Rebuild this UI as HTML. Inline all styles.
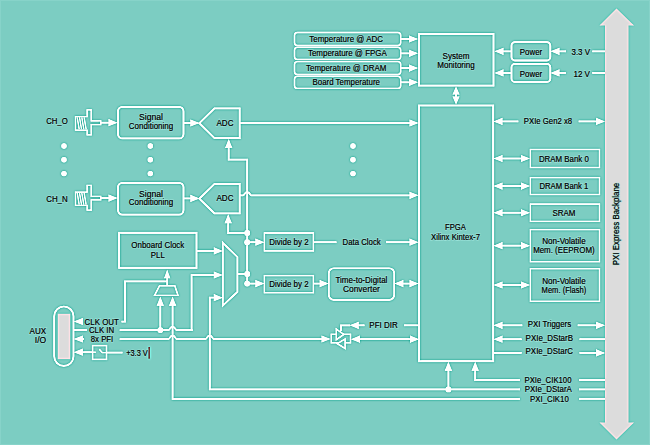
<!DOCTYPE html>
<html><head><meta charset="utf-8"><style>
html,body{margin:0;padding:0;background:#7ccdc2;overflow:hidden;}
svg{display:block;}
text{font-family:"Liberation Sans", sans-serif;stroke:#000;stroke-width:0.12px;} text.h{stroke:#a8ece2;stroke-width:1.6px;stroke-opacity:0.6;}
</style></head><body>
<svg width="650" height="445" viewBox="0 0 650 445">
<defs><filter id="sh" filterUnits="userSpaceOnUse" x="0" y="0" width="650" height="445" color-interpolation-filters="sRGB">
<feGaussianBlur in="SourceGraphic" stdDeviation="0.8" result="b"/>
<feComposite in="SourceGraphic" in2="b" operator="arithmetic" k1="0" k2="2.25" k3="-1.25" k4="0"/>
</filter></defs>
<g filter="url(#sh)">
<rect x="-30" y="-30" width="710" height="505" fill="#7ccdc2"/>
<polygon points="616.50,8.50 634.00,25.50 628.50,25.50 628.50,422.50 634.00,422.50 616.50,439.50 599.50,422.50 605.00,422.50 605.00,25.50 599.50,25.50" fill="#dcdcdc" stroke="none" stroke-width="0"/>
<rect x="294.50" y="32.50" width="106.20" height="13.00" rx="3" fill="#7ccdc2" stroke="#ffffff" stroke-width="1.4"/>
<line x1="400.70" y1="39.00" x2="410.00" y2="39.00" stroke="#ffffff" stroke-width="1.75"/>
<polygon points="418.00,39.00 409.00,35.40 409.00,42.60" fill="#ffffff"/>
<rect x="294.50" y="47.20" width="106.20" height="12.30" rx="3" fill="#7ccdc2" stroke="#ffffff" stroke-width="1.4"/>
<line x1="400.70" y1="53.35" x2="410.00" y2="53.35" stroke="#ffffff" stroke-width="1.75"/>
<polygon points="418.00,53.35 409.00,49.75 409.00,56.95" fill="#ffffff"/>
<rect x="294.50" y="61.60" width="106.20" height="12.90" rx="3" fill="#7ccdc2" stroke="#ffffff" stroke-width="1.4"/>
<line x1="400.70" y1="68.05" x2="410.00" y2="68.05" stroke="#ffffff" stroke-width="1.75"/>
<polygon points="418.00,68.05 409.00,64.45 409.00,71.65" fill="#ffffff"/>
<rect x="294.50" y="76.20" width="106.20" height="12.20" rx="3" fill="#7ccdc2" stroke="#ffffff" stroke-width="1.4"/>
<line x1="400.70" y1="82.30" x2="410.00" y2="82.30" stroke="#ffffff" stroke-width="1.75"/>
<polygon points="418.00,82.30 409.00,78.70 409.00,85.90" fill="#ffffff"/>
<rect x="419.00" y="34.00" width="74.50" height="51.60" rx="0" fill="#7ccdc2" stroke="#ffffff" stroke-width="1.8"/>
<rect x="511.50" y="42.20" width="38.80" height="18.30" rx="3.5" fill="#7ccdc2" stroke="#ffffff" stroke-width="1.8"/>
<line x1="503.00" y1="51.35" x2="511.50" y2="51.35" stroke="#ffffff" stroke-width="1.75"/>
<polygon points="494.50,51.35 503.50,47.75 503.50,54.95" fill="#ffffff"/>
<line x1="558.00" y1="51.35" x2="566.00" y2="51.35" stroke="#ffffff" stroke-width="1.75"/>
<polygon points="550.50,51.35 559.50,47.75 559.50,54.95" fill="#ffffff"/>
<line x1="592.30" y1="51.35" x2="605.00" y2="51.35" stroke="#ffffff" stroke-width="1.75"/>
<rect x="511.50" y="63.90" width="38.80" height="18.00" rx="3.5" fill="#7ccdc2" stroke="#ffffff" stroke-width="1.8"/>
<line x1="503.00" y1="72.90" x2="511.50" y2="72.90" stroke="#ffffff" stroke-width="1.75"/>
<polygon points="494.50,72.90 503.50,69.30 503.50,76.50" fill="#ffffff"/>
<line x1="558.00" y1="72.90" x2="566.00" y2="72.90" stroke="#ffffff" stroke-width="1.75"/>
<polygon points="550.50,72.90 559.50,69.30 559.50,76.50" fill="#ffffff"/>
<line x1="592.30" y1="72.90" x2="605.00" y2="72.90" stroke="#ffffff" stroke-width="1.75"/>
<line x1="456.00" y1="94.00" x2="456.00" y2="97.00" stroke="#ffffff" stroke-width="1.75"/>
<polygon points="456.00,86.50 452.50,94.50 459.50,94.50" fill="#ffffff"/>
<polygon points="456.00,104.50 452.50,96.50 459.50,96.50" fill="#ffffff"/>
<rect x="419.00" y="105.50" width="74.20" height="255.70" rx="0" fill="#7ccdc2" stroke="#ffffff" stroke-width="1.8"/>
<polygon points="493.50,121.40 502.50,117.80 502.50,125.00" fill="#ffffff"/>
<line x1="501.00" y1="121.40" x2="518.35" y2="121.40" stroke="#ffffff" stroke-width="1.75"/>
<line x1="578.65" y1="121.40" x2="597.50" y2="121.40" stroke="#ffffff" stroke-width="1.75"/>
<polygon points="605.00,121.40 596.00,117.80 596.00,125.00" fill="#ffffff"/>
<rect x="530.40" y="149.50" width="69.10" height="18.00" rx="0" fill="#7ccdc2" stroke="#ffffff" stroke-width="1.3"/>
<line x1="501.50" y1="158.50" x2="522.00" y2="158.50" stroke="#ffffff" stroke-width="1.75"/>
<polygon points="493.50,158.50 502.50,154.90 502.50,162.10" fill="#ffffff"/>
<polygon points="530.00,158.50 521.00,154.90 521.00,162.10" fill="#ffffff"/>
<rect x="530.40" y="177.60" width="69.10" height="16.90" rx="0" fill="#7ccdc2" stroke="#ffffff" stroke-width="1.3"/>
<line x1="501.50" y1="186.05" x2="522.00" y2="186.05" stroke="#ffffff" stroke-width="1.75"/>
<polygon points="493.50,186.05 502.50,182.45 502.50,189.65" fill="#ffffff"/>
<polygon points="530.00,186.05 521.00,182.45 521.00,189.65" fill="#ffffff"/>
<rect x="530.40" y="204.10" width="69.10" height="17.30" rx="0" fill="#7ccdc2" stroke="#ffffff" stroke-width="1.3"/>
<line x1="501.50" y1="212.75" x2="522.00" y2="212.75" stroke="#ffffff" stroke-width="1.75"/>
<polygon points="493.50,212.75 502.50,209.15 502.50,216.35" fill="#ffffff"/>
<polygon points="530.00,212.75 521.00,209.15 521.00,216.35" fill="#ffffff"/>
<rect x="530.40" y="229.60" width="69.10" height="32.10" rx="0" fill="#7ccdc2" stroke="#ffffff" stroke-width="1.3"/>
<line x1="501.50" y1="245.65" x2="522.00" y2="245.65" stroke="#ffffff" stroke-width="1.75"/>
<polygon points="493.50,245.65 502.50,242.05 502.50,249.25" fill="#ffffff"/>
<polygon points="530.00,245.65 521.00,242.05 521.00,249.25" fill="#ffffff"/>
<rect x="530.40" y="268.70" width="69.10" height="32.60" rx="0" fill="#7ccdc2" stroke="#ffffff" stroke-width="1.3"/>
<line x1="501.50" y1="285.00" x2="522.00" y2="285.00" stroke="#ffffff" stroke-width="1.75"/>
<polygon points="493.50,285.00 502.50,281.40 502.50,288.60" fill="#ffffff"/>
<polygon points="530.00,285.00 521.00,281.40 521.00,288.60" fill="#ffffff"/>
<polygon points="493.50,325.30 502.50,321.70 502.50,328.90" fill="#ffffff"/>
<line x1="501.00" y1="325.30" x2="522.30" y2="325.30" stroke="#ffffff" stroke-width="1.75"/>
<line x1="577.70" y1="325.30" x2="597.50" y2="325.30" stroke="#ffffff" stroke-width="1.75"/>
<polygon points="605.00,325.30 596.00,321.70 596.00,328.90" fill="#ffffff"/>
<polygon points="493.50,339.20 502.50,335.60 502.50,342.80" fill="#ffffff"/>
<line x1="501.00" y1="339.20" x2="521.60" y2="339.20" stroke="#ffffff" stroke-width="1.75"/>
<line x1="579.50" y1="339.20" x2="605.00" y2="339.20" stroke="#ffffff" stroke-width="1.75"/>
<line x1="493.20" y1="352.90" x2="521.60" y2="352.90" stroke="#ffffff" stroke-width="1.75"/>
<line x1="579.50" y1="352.90" x2="597.50" y2="352.90" stroke="#ffffff" stroke-width="1.75"/>
<polygon points="605.00,352.90 596.00,349.30 596.00,356.50" fill="#ffffff"/>
<line x1="448.40" y1="369.00" x2="448.40" y2="389.40" stroke="#ffffff" stroke-width="1.75"/>
<polygon points="448.40,361.80 444.80,370.80 452.00,370.80" fill="#ffffff"/>
<polyline points="475.20,369.00 475.20,380.00 520.00,380.00" fill="none" stroke="#ffffff" stroke-width="1.75" stroke-linejoin="miter" />
<polygon points="475.20,361.80 471.60,370.80 478.80,370.80" fill="#ffffff"/>
<line x1="579.00" y1="380.00" x2="605.00" y2="380.00" stroke="#ffffff" stroke-width="1.75"/>
<line x1="579.00" y1="389.40" x2="605.00" y2="389.40" stroke="#ffffff" stroke-width="1.75"/>
<circle cx="448.40" cy="389.40" r="2.9" fill="#ffffff"/>
<line x1="579.00" y1="398.80" x2="605.00" y2="398.80" stroke="#ffffff" stroke-width="1.75"/>
<path d="M75.5,116.6 H87.1 V109.9 H91.2 V120.9 H100.8 V124.5 H91.2 V134.8 H87.1 V130.0 H75.5 Z" fill="#7ccdc2" stroke="#ffffff" stroke-width="1.25"/>
<line x1="77.20" y1="117.4" x2="79.20" y2="129.2" stroke="#ffffff" stroke-width="1.15"/>
<line x1="79.50" y1="117.4" x2="81.50" y2="129.2" stroke="#ffffff" stroke-width="1.15"/>
<line x1="81.80" y1="117.4" x2="83.80" y2="129.2" stroke="#ffffff" stroke-width="1.15"/>
<line x1="84.10" y1="117.4" x2="86.10" y2="129.2" stroke="#ffffff" stroke-width="1.15"/>
<line x1="100.80" y1="122.70" x2="109.50" y2="122.70" stroke="#ffffff" stroke-width="1.75"/>
<polygon points="117.50,122.70 108.50,119.10 108.50,126.30" fill="#ffffff"/>
<rect x="118.00" y="106.90" width="65.50" height="31.50" rx="4.5" fill="#7ccdc2" stroke="#ffffff" stroke-width="1.8"/>
<line x1="183.50" y1="123.00" x2="191.40" y2="123.00" stroke="#ffffff" stroke-width="1.75"/>
<polygon points="199.40,123.00 190.40,119.40 190.40,126.60" fill="#ffffff"/>
<path d="M75.5,192.0 H87.1 V185.3 H91.2 V196.3 H100.8 V199.9 H91.2 V210.20000000000002 H87.1 V205.4 H75.5 Z" fill="#7ccdc2" stroke="#ffffff" stroke-width="1.25"/>
<line x1="77.20" y1="192.8" x2="79.20" y2="204.6" stroke="#ffffff" stroke-width="1.15"/>
<line x1="79.50" y1="192.8" x2="81.50" y2="204.6" stroke="#ffffff" stroke-width="1.15"/>
<line x1="81.80" y1="192.8" x2="83.80" y2="204.6" stroke="#ffffff" stroke-width="1.15"/>
<line x1="84.10" y1="192.8" x2="86.10" y2="204.6" stroke="#ffffff" stroke-width="1.15"/>
<line x1="100.80" y1="198.10" x2="109.50" y2="198.10" stroke="#ffffff" stroke-width="1.75"/>
<polygon points="117.50,198.10 108.50,194.50 108.50,201.70" fill="#ffffff"/>
<rect x="118.00" y="182.80" width="65.50" height="31.80" rx="4.5" fill="#7ccdc2" stroke="#ffffff" stroke-width="1.8"/>
<line x1="183.50" y1="198.40" x2="191.40" y2="198.40" stroke="#ffffff" stroke-width="1.75"/>
<polygon points="199.40,198.40 190.40,194.80 190.40,202.00" fill="#ffffff"/>
<polygon points="199.40,123.20 214.50,108.40 239.70,108.40 239.70,138.00 214.50,138.00" fill="#7ccdc2" stroke="#ffffff" stroke-width="1.75"/>
<polygon points="199.40,198.65 214.50,183.90 239.70,183.90 239.70,213.40 214.50,213.40" fill="#7ccdc2" stroke="#ffffff" stroke-width="1.75"/>
<circle cx="64.00" cy="146.00" r="2.7" fill="#ffffff"/>
<circle cx="64.00" cy="159.80" r="2.7" fill="#ffffff"/>
<circle cx="64.00" cy="173.60" r="2.7" fill="#ffffff"/>
<circle cx="150.30" cy="146.00" r="2.7" fill="#ffffff"/>
<circle cx="150.30" cy="159.80" r="2.7" fill="#ffffff"/>
<circle cx="150.30" cy="173.60" r="2.7" fill="#ffffff"/>
<circle cx="353.00" cy="146.00" r="2.7" fill="#ffffff"/>
<circle cx="353.00" cy="159.80" r="2.7" fill="#ffffff"/>
<circle cx="353.00" cy="173.60" r="2.7" fill="#ffffff"/>
<line x1="239.70" y1="123.00" x2="410.50" y2="123.00" stroke="#ffffff" stroke-width="1.75"/>
<polygon points="418.50,123.00 409.50,119.40 409.50,126.60" fill="#ffffff"/>
<path d="M239.70,195.30 L243.00,195.30 C244.70,195.30 244.40,192.00 247.20,192.00 C250.00,192.00 249.70,195.30 251.40,195.30 L410.00,195.30" fill="none" stroke="#ffffff" stroke-width="1.75"/>
<polygon points="418.50,195.30 409.50,191.70 409.50,198.90" fill="#ffffff"/>
<polyline points="228.70,147.00 228.70,159.60 247.20,159.60 247.20,283.60" fill="none" stroke="#ffffff" stroke-width="1.75" stroke-linejoin="miter" />
<polygon points="228.70,139.00 225.10,148.00 232.30,148.00" fill="#ffffff"/>
<polyline points="228.20,222.00 228.20,233.00 247.20,233.00" fill="none" stroke="#ffffff" stroke-width="1.75" stroke-linejoin="miter" />
<polygon points="228.20,214.30 224.60,223.30 231.80,223.30" fill="#ffffff"/>
<circle cx="247.20" cy="233.00" r="2.9" fill="#ffffff"/>
<circle cx="247.20" cy="242.20" r="2.9" fill="#ffffff"/>
<circle cx="247.20" cy="273.90" r="2.9" fill="#ffffff"/>
<circle cx="247.20" cy="283.60" r="2.9" fill="#ffffff"/>
<line x1="247.20" y1="242.20" x2="256.40" y2="242.20" stroke="#ffffff" stroke-width="1.75"/>
<polygon points="264.40,242.20 255.40,238.60 255.40,245.80" fill="#ffffff"/>
<rect x="264.40" y="233.00" width="49.00" height="17.90" rx="0" fill="#7ccdc2" stroke="#ffffff" stroke-width="1.35"/>
<line x1="247.20" y1="283.60" x2="256.40" y2="283.60" stroke="#ffffff" stroke-width="1.75"/>
<polygon points="264.40,283.60 255.40,280.00 255.40,287.20" fill="#ffffff"/>
<rect x="264.40" y="275.60" width="49.00" height="17.10" rx="0" fill="#7ccdc2" stroke="#ffffff" stroke-width="1.35"/>
<line x1="313.40" y1="242.20" x2="336.50" y2="242.20" stroke="#ffffff" stroke-width="1.75"/>
<line x1="386.00" y1="242.20" x2="410.00" y2="242.20" stroke="#ffffff" stroke-width="1.75"/>
<polygon points="418.50,242.20 409.50,238.60 409.50,245.80" fill="#ffffff"/>
<line x1="313.40" y1="283.60" x2="320.60" y2="283.60" stroke="#ffffff" stroke-width="1.75"/>
<polygon points="328.60,283.60 319.60,280.00 319.60,287.20" fill="#ffffff"/>
<rect x="328.80" y="268.20" width="65.40" height="31.70" rx="5" fill="#7ccdc2" stroke="#ffffff" stroke-width="1.6"/>
<line x1="402.40" y1="283.60" x2="410.50" y2="283.60" stroke="#ffffff" stroke-width="1.75"/>
<polygon points="394.40,283.60 403.40,280.00 403.40,287.20" fill="#ffffff"/>
<polygon points="418.50,283.60 409.50,280.00 409.50,287.20" fill="#ffffff"/>
<rect x="119.10" y="232.80" width="77.40" height="35.00" rx="0" fill="#7ccdc2" stroke="#ffffff" stroke-width="1.8"/>
<line x1="196.50" y1="250.90" x2="214.80" y2="250.90" stroke="#ffffff" stroke-width="1.75"/>
<polygon points="222.80,250.90 213.80,247.30 213.80,254.50" fill="#ffffff"/>
<polygon points="222.80,242.80 237.40,257.00 237.40,291.80 222.80,305.60" fill="#7ccdc2" stroke="#ffffff" stroke-width="1.7"/>
<polyline points="191.60,331.00 191.60,275.00 214.00,275.00" fill="none" stroke="#ffffff" stroke-width="1.75" stroke-linejoin="miter" />
<polygon points="222.80,275.00 213.80,271.40 213.80,278.60" fill="#ffffff"/>
<polyline points="520.00,389.40 209.80,389.40 209.80,297.70 214.00,297.70" fill="none" stroke="#ffffff" stroke-width="1.75" stroke-linejoin="miter" />
<polygon points="222.80,297.70 213.80,294.10 213.80,301.30" fill="#ffffff"/>
<line x1="237.50" y1="273.90" x2="247.20" y2="273.90" stroke="#ffffff" stroke-width="1.75"/>
<line x1="167.20" y1="277.00" x2="167.20" y2="285.70" stroke="#ffffff" stroke-width="1.75"/>
<polygon points="167.20,269.80 164.10,278.30 170.30,278.30" fill="#ffffff"/>
<polyline points="167.20,281.30 125.00,281.30 125.00,321.50 121.50,321.50" fill="none" stroke="#ffffff" stroke-width="1.75" stroke-linejoin="miter" />
<polygon points="159.60,285.70 174.80,285.70 178.00,295.40 154.60,295.40" fill="#7ccdc2" stroke="#ffffff" stroke-width="1.4"/>
<line x1="160.30" y1="305.00" x2="160.30" y2="330.10" stroke="#ffffff" stroke-width="1.75"/>
<polygon points="160.30,296.80 156.70,305.80 163.90,305.80" fill="#ffffff"/>
<polygon points="172.60,296.80 169.00,305.80 176.20,305.80" fill="#ffffff"/>
<circle cx="160.30" cy="330.10" r="2.9" fill="#ffffff"/>
<polyline points="172.60,305.00 172.60,398.80 520.00,398.80" fill="none" stroke="#ffffff" stroke-width="1.75" stroke-linejoin="miter" />
<rect x="54.2" y="306.5" width="19.3" height="59.4" rx="9.65" fill="#7ccdc2" stroke="#ffffff" stroke-width="1.7"/>
<rect x="57.80" y="313.80" width="12.40" height="45.30" rx="0" fill="#dcdcdc" stroke="none" stroke-width="0"/>
<polygon points="73.80,321.50 82.80,317.90 82.80,325.10" fill="#ffffff"/>
<line x1="80.00" y1="321.50" x2="83.00" y2="321.50" stroke="#ffffff" stroke-width="1.75"/>
<line x1="74.00" y1="330.10" x2="87.00" y2="330.10" stroke="#ffffff" stroke-width="1.75"/>
<path d="M119.70,330.10 L168.40,330.10 C170.10,330.10 169.80,326.80 172.60,326.80 C175.40,326.80 175.10,330.10 176.80,330.10 L192.50,330.10" fill="none" stroke="#ffffff" stroke-width="1.75"/>
<polygon points="73.80,339.00 82.80,335.40 82.80,342.60" fill="#ffffff"/>
<line x1="80.00" y1="339.00" x2="84.00" y2="339.00" stroke="#ffffff" stroke-width="1.75"/>
<path d="M119.70,339.00 L168.40,339.00 C170.10,339.00 169.80,335.70 172.60,335.70 C175.40,335.70 175.10,339.00 176.80,339.00 L205.50,339.00 C207.20,339.00 206.90,335.70 209.70,335.70 C212.50,335.70 212.20,339.00 213.90,339.00 L322.00,339.00" fill="none" stroke="#ffffff" stroke-width="1.75"/>
<polygon points="330.50,339.00 321.50,335.40 321.50,342.60" fill="#ffffff"/>
<polygon points="73.80,352.20 82.80,348.60 82.80,355.80" fill="#ffffff"/>
<line x1="80.00" y1="352.20" x2="92.60" y2="352.20" stroke="#ffffff" stroke-width="1.75"/>
<rect x="92.60" y="345.60" width="13.90" height="13.80" rx="0" fill="#7ccdc2" stroke="#ffffff" stroke-width="1.4"/>
<polyline points="92.6,352.2 95.7,352.2" fill="none" stroke="#ffffff" stroke-width="1.3"/>
<polyline points="99.3,349.3 102.4,352.6 106.5,352.6" fill="none" stroke="#ffffff" stroke-width="1.3"/>
<line x1="106.80" y1="352.60" x2="122.50" y2="352.60" stroke="#ffffff" stroke-width="1.75"/>
<line x1="149.1" y1="347" x2="149.1" y2="358.7" stroke="#6a3030" stroke-width="1"/>
<line x1="404.10" y1="325.30" x2="419.00" y2="325.30" stroke="#ffffff" stroke-width="1.75"/>
<line x1="356.00" y1="325.30" x2="364.50" y2="325.30" stroke="#ffffff" stroke-width="1.75"/>
<polygon points="349.70,325.30 358.70,321.70 358.70,328.90" fill="#ffffff"/>
<polyline points="350.00,325.30 341.00,325.30 341.00,331.00" fill="none" stroke="#ffffff" stroke-width="1.75" stroke-linejoin="miter" />
<rect x="331.30" y="334.30" width="19.20" height="8.50" rx="0" fill="#7ccdc2" stroke="#ffffff" stroke-width="1.4"/>
<polygon points="336.30,329.20 336.30,339.60 343.90,334.40" fill="#7ccdc2" stroke="#ffffff" stroke-width="1.4"/>
<polygon points="345.10,339.00 345.10,348.40 337.30,343.70" fill="#7ccdc2" stroke="#ffffff" stroke-width="1.4"/>
<line x1="359.00" y1="339.20" x2="411.00" y2="339.20" stroke="#ffffff" stroke-width="1.75"/>
<polygon points="351.00,339.20 360.00,335.60 360.00,342.80" fill="#ffffff"/>
<polygon points="419.00,339.20 410.00,335.60 410.00,342.80" fill="#ffffff"/>
</g>
<text class="h" x="0.00" y="0.00" font-size="9.2" text-anchor="middle" textLength="82.5" lengthAdjust="spacingAndGlyphs" fill="#000000" transform="translate(618.6,224) rotate(-90)">PXI Express Backplane</text>
<text class="h" x="346.20" y="42.10" font-size="9.2" text-anchor="middle" textLength="73.9" lengthAdjust="spacingAndGlyphs" fill="#000000" >Temperature @ ADC</text>
<text class="h" x="347.40" y="56.45" font-size="9.2" text-anchor="middle" textLength="79" lengthAdjust="spacingAndGlyphs" fill="#000000" >Temperature @ FPGA</text>
<text class="h" x="346.20" y="71.15" font-size="9.2" text-anchor="middle" textLength="80.3" lengthAdjust="spacingAndGlyphs" fill="#000000" >Temperature @ DRAM</text>
<text class="h" x="346.20" y="85.40" font-size="9.2" text-anchor="middle" textLength="67.4" lengthAdjust="spacingAndGlyphs" fill="#000000" >Board Temperature</text>
<text class="h" x="456.00" y="58.80" font-size="9.2" text-anchor="middle" textLength="27" lengthAdjust="spacingAndGlyphs" fill="#000000" >System</text>
<text class="h" x="456.00" y="67.80" font-size="9.2" text-anchor="middle" textLength="37.5" lengthAdjust="spacingAndGlyphs" fill="#000000" >Monitoring</text>
<text class="h" x="531.00" y="54.95" font-size="9.2" text-anchor="middle" textLength="22.4" lengthAdjust="spacingAndGlyphs" fill="#000000" >Power</text>
<text class="h" x="590.00" y="54.95" font-size="9.2" text-anchor="end" textLength="18.5" lengthAdjust="spacingAndGlyphs" fill="#000000" >3.3 V</text>
<text class="h" x="531.00" y="76.50" font-size="9.2" text-anchor="middle" textLength="22.4" lengthAdjust="spacingAndGlyphs" fill="#000000" >Power</text>
<text class="h" x="590.00" y="76.50" font-size="9.2" text-anchor="end" textLength="16.6" lengthAdjust="spacingAndGlyphs" fill="#000000" >12 V</text>
<text class="h" x="455.50" y="229.90" font-size="9.2" text-anchor="middle" textLength="20.8" lengthAdjust="spacingAndGlyphs" fill="#000000" >FPGA</text>
<text class="h" x="455.50" y="239.60" font-size="9.2" text-anchor="middle" textLength="49" lengthAdjust="spacingAndGlyphs" fill="#000000" >Xilinx Kintex-7</text>
<text class="h" x="548.00" y="123.90" font-size="9.2" text-anchor="middle" textLength="48.3" lengthAdjust="spacingAndGlyphs" fill="#000000" >PXIe Gen2 x8</text>
<text class="h" x="563.90" y="161.70" font-size="9.2" text-anchor="middle" textLength="50" lengthAdjust="spacingAndGlyphs" fill="#000000" >DRAM Bank 0</text>
<text class="h" x="563.90" y="189.25" font-size="9.2" text-anchor="middle" textLength="49" lengthAdjust="spacingAndGlyphs" fill="#000000" >DRAM Bank 1</text>
<text class="h" x="563.90" y="215.95" font-size="9.2" text-anchor="middle" textLength="23" lengthAdjust="spacingAndGlyphs" fill="#000000" >SRAM</text>
<text class="h" x="563.90" y="244.15" font-size="9.2" text-anchor="middle" textLength="43.5" lengthAdjust="spacingAndGlyphs" fill="#000000" >Non-Volatile</text>
<text class="h" x="563.90" y="253.15" font-size="9.2" text-anchor="middle" textLength="61.5" lengthAdjust="spacingAndGlyphs" fill="#000000" >Mem. (EEPROM)</text>
<text class="h" x="563.90" y="283.50" font-size="9.2" text-anchor="middle" textLength="43.5" lengthAdjust="spacingAndGlyphs" fill="#000000" >Non-Volatile</text>
<text class="h" x="563.90" y="292.50" font-size="9.2" text-anchor="middle" textLength="44.6" lengthAdjust="spacingAndGlyphs" fill="#000000" >Mem. (Flash)</text>
<text class="h" x="549.50" y="326.90" font-size="9.2" text-anchor="middle" textLength="43.4" lengthAdjust="spacingAndGlyphs" fill="#000000" >PXI Triggers</text>
<text class="h" x="549.30" y="340.50" font-size="9.2" text-anchor="middle" textLength="47.4" lengthAdjust="spacingAndGlyphs" fill="#000000" >PXIe_DStarB</text>
<text class="h" x="549.30" y="354.00" font-size="9.2" text-anchor="middle" textLength="47.4" lengthAdjust="spacingAndGlyphs" fill="#000000" >PXIe_DStarC</text>
<text class="h" x="548.00" y="383.00" font-size="9.2" text-anchor="middle" textLength="47" lengthAdjust="spacingAndGlyphs" fill="#000000" >PXIe_CIK100</text>
<text class="h" x="548.30" y="392.20" font-size="9.2" text-anchor="middle" textLength="47" lengthAdjust="spacingAndGlyphs" fill="#000000" >PXIe_DStarA</text>
<text class="h" x="549.40" y="402.20" font-size="9.2" text-anchor="middle" textLength="38.8" lengthAdjust="spacingAndGlyphs" fill="#000000" >PXI_CIK10</text>
<text class="h" x="46.20" y="124.00" font-size="9.6" text-anchor="start" textLength="21.5" lengthAdjust="spacingAndGlyphs" fill="#000000" >CH_O</text>
<text class="h" x="151.00" y="119.60" font-size="9.2" text-anchor="middle" textLength="24" lengthAdjust="spacingAndGlyphs" fill="#000000" >Signal</text>
<text class="h" x="151.00" y="129.00" font-size="9.2" text-anchor="middle" textLength="44.5" lengthAdjust="spacingAndGlyphs" fill="#000000" >Conditioning</text>
<text class="h" x="46.20" y="202.40" font-size="9.6" text-anchor="start" textLength="21.5" lengthAdjust="spacingAndGlyphs" fill="#000000" >CH_N</text>
<text class="h" x="151.00" y="196.80" font-size="9.2" text-anchor="middle" textLength="24" lengthAdjust="spacingAndGlyphs" fill="#000000" >Signal</text>
<text class="h" x="151.00" y="205.40" font-size="9.2" text-anchor="middle" textLength="44.5" lengthAdjust="spacingAndGlyphs" fill="#000000" >Conditioning</text>
<text class="h" x="225.00" y="125.60" font-size="9.2" text-anchor="middle" textLength="17" lengthAdjust="spacingAndGlyphs" fill="#000000" >ADC</text>
<text class="h" x="225.00" y="201.05" font-size="9.2" text-anchor="middle" textLength="17" lengthAdjust="spacingAndGlyphs" fill="#000000" >ADC</text>
<text class="h" x="288.90" y="244.60" font-size="9.2" text-anchor="middle" textLength="39.4" lengthAdjust="spacingAndGlyphs" fill="#000000" >Divide by 2</text>
<text class="h" x="288.90" y="286.80" font-size="9.2" text-anchor="middle" textLength="39.4" lengthAdjust="spacingAndGlyphs" fill="#000000" >Divide by 2</text>
<text class="h" x="361.60" y="244.90" font-size="9.2" text-anchor="middle" textLength="38.2" lengthAdjust="spacingAndGlyphs" fill="#000000" >Data Clock</text>
<text class="h" x="361.40" y="282.60" font-size="9.2" text-anchor="middle" textLength="52" lengthAdjust="spacingAndGlyphs" fill="#000000" >Time-to-Digital</text>
<text class="h" x="361.40" y="292.20" font-size="9.2" text-anchor="middle" textLength="37" lengthAdjust="spacingAndGlyphs" fill="#000000" >Converter</text>
<text class="h" x="157.80" y="247.80" font-size="9.2" text-anchor="middle" textLength="53" lengthAdjust="spacingAndGlyphs" fill="#000000" >Onboard Clock</text>
<text class="h" x="157.80" y="257.60" font-size="9.2" text-anchor="middle" textLength="14" lengthAdjust="spacingAndGlyphs" fill="#000000" >PLL</text>
<text class="h" x="46.20" y="334.40" font-size="9.2" text-anchor="end" textLength="16.6" lengthAdjust="spacingAndGlyphs" fill="#000000" >AUX</text>
<text class="h" x="46.20" y="343.20" font-size="9.2" text-anchor="end" textLength="11.4" lengthAdjust="spacingAndGlyphs" fill="#000000" >I/O</text>
<text class="h" x="101.70" y="324.50" font-size="9.2" text-anchor="middle" textLength="34.2" lengthAdjust="spacingAndGlyphs" fill="#000000" >CLK OUT</text>
<text class="h" x="101.50" y="333.10" font-size="9.2" text-anchor="middle" textLength="25.2" lengthAdjust="spacingAndGlyphs" fill="#000000" >CLK IN</text>
<text class="h" x="102.00" y="342.00" font-size="9.2" text-anchor="middle" textLength="22.5" lengthAdjust="spacingAndGlyphs" fill="#000000" >8x PFI</text>
<text class="h" x="126.20" y="355.60" font-size="9.2" text-anchor="start" textLength="21.6" lengthAdjust="spacingAndGlyphs" fill="#000000" >+3.3 V</text>
<text class="h" x="383.50" y="328.40" font-size="9.2" text-anchor="middle" textLength="28.3" lengthAdjust="spacingAndGlyphs" fill="#000000" >PFI DIR</text>
<text x="0.00" y="0.00" font-size="9.2" text-anchor="middle" textLength="82.5" lengthAdjust="spacingAndGlyphs" fill="#000000" transform="translate(618.6,224) rotate(-90)">PXI Express Backplane</text>
<text x="346.20" y="42.10" font-size="9.2" text-anchor="middle" textLength="73.9" lengthAdjust="spacingAndGlyphs" fill="#000000" >Temperature @ ADC</text>
<text x="347.40" y="56.45" font-size="9.2" text-anchor="middle" textLength="79" lengthAdjust="spacingAndGlyphs" fill="#000000" >Temperature @ FPGA</text>
<text x="346.20" y="71.15" font-size="9.2" text-anchor="middle" textLength="80.3" lengthAdjust="spacingAndGlyphs" fill="#000000" >Temperature @ DRAM</text>
<text x="346.20" y="85.40" font-size="9.2" text-anchor="middle" textLength="67.4" lengthAdjust="spacingAndGlyphs" fill="#000000" >Board Temperature</text>
<text x="456.00" y="58.80" font-size="9.2" text-anchor="middle" textLength="27" lengthAdjust="spacingAndGlyphs" fill="#000000" >System</text>
<text x="456.00" y="67.80" font-size="9.2" text-anchor="middle" textLength="37.5" lengthAdjust="spacingAndGlyphs" fill="#000000" >Monitoring</text>
<text x="531.00" y="54.95" font-size="9.2" text-anchor="middle" textLength="22.4" lengthAdjust="spacingAndGlyphs" fill="#000000" >Power</text>
<text x="590.00" y="54.95" font-size="9.2" text-anchor="end" textLength="18.5" lengthAdjust="spacingAndGlyphs" fill="#000000" >3.3 V</text>
<text x="531.00" y="76.50" font-size="9.2" text-anchor="middle" textLength="22.4" lengthAdjust="spacingAndGlyphs" fill="#000000" >Power</text>
<text x="590.00" y="76.50" font-size="9.2" text-anchor="end" textLength="16.6" lengthAdjust="spacingAndGlyphs" fill="#000000" >12 V</text>
<text x="455.50" y="229.90" font-size="9.2" text-anchor="middle" textLength="20.8" lengthAdjust="spacingAndGlyphs" fill="#000000" >FPGA</text>
<text x="455.50" y="239.60" font-size="9.2" text-anchor="middle" textLength="49" lengthAdjust="spacingAndGlyphs" fill="#000000" >Xilinx Kintex-7</text>
<text x="548.00" y="123.90" font-size="9.2" text-anchor="middle" textLength="48.3" lengthAdjust="spacingAndGlyphs" fill="#000000" >PXIe Gen2 x8</text>
<text x="563.90" y="161.70" font-size="9.2" text-anchor="middle" textLength="50" lengthAdjust="spacingAndGlyphs" fill="#000000" >DRAM Bank 0</text>
<text x="563.90" y="189.25" font-size="9.2" text-anchor="middle" textLength="49" lengthAdjust="spacingAndGlyphs" fill="#000000" >DRAM Bank 1</text>
<text x="563.90" y="215.95" font-size="9.2" text-anchor="middle" textLength="23" lengthAdjust="spacingAndGlyphs" fill="#000000" >SRAM</text>
<text x="563.90" y="244.15" font-size="9.2" text-anchor="middle" textLength="43.5" lengthAdjust="spacingAndGlyphs" fill="#000000" >Non-Volatile</text>
<text x="563.90" y="253.15" font-size="9.2" text-anchor="middle" textLength="61.5" lengthAdjust="spacingAndGlyphs" fill="#000000" >Mem. (EEPROM)</text>
<text x="563.90" y="283.50" font-size="9.2" text-anchor="middle" textLength="43.5" lengthAdjust="spacingAndGlyphs" fill="#000000" >Non-Volatile</text>
<text x="563.90" y="292.50" font-size="9.2" text-anchor="middle" textLength="44.6" lengthAdjust="spacingAndGlyphs" fill="#000000" >Mem. (Flash)</text>
<text x="549.50" y="326.90" font-size="9.2" text-anchor="middle" textLength="43.4" lengthAdjust="spacingAndGlyphs" fill="#000000" >PXI Triggers</text>
<text x="549.30" y="340.50" font-size="9.2" text-anchor="middle" textLength="47.4" lengthAdjust="spacingAndGlyphs" fill="#000000" >PXIe_DStarB</text>
<text x="549.30" y="354.00" font-size="9.2" text-anchor="middle" textLength="47.4" lengthAdjust="spacingAndGlyphs" fill="#000000" >PXIe_DStarC</text>
<text x="548.00" y="383.00" font-size="9.2" text-anchor="middle" textLength="47" lengthAdjust="spacingAndGlyphs" fill="#000000" >PXIe_CIK100</text>
<text x="548.30" y="392.20" font-size="9.2" text-anchor="middle" textLength="47" lengthAdjust="spacingAndGlyphs" fill="#000000" >PXIe_DStarA</text>
<text x="549.40" y="402.20" font-size="9.2" text-anchor="middle" textLength="38.8" lengthAdjust="spacingAndGlyphs" fill="#000000" >PXI_CIK10</text>
<text x="46.20" y="124.00" font-size="9.6" text-anchor="start" textLength="21.5" lengthAdjust="spacingAndGlyphs" fill="#000000" >CH_O</text>
<text x="151.00" y="119.60" font-size="9.2" text-anchor="middle" textLength="24" lengthAdjust="spacingAndGlyphs" fill="#000000" >Signal</text>
<text x="151.00" y="129.00" font-size="9.2" text-anchor="middle" textLength="44.5" lengthAdjust="spacingAndGlyphs" fill="#000000" >Conditioning</text>
<text x="46.20" y="202.40" font-size="9.6" text-anchor="start" textLength="21.5" lengthAdjust="spacingAndGlyphs" fill="#000000" >CH_N</text>
<text x="151.00" y="196.80" font-size="9.2" text-anchor="middle" textLength="24" lengthAdjust="spacingAndGlyphs" fill="#000000" >Signal</text>
<text x="151.00" y="205.40" font-size="9.2" text-anchor="middle" textLength="44.5" lengthAdjust="spacingAndGlyphs" fill="#000000" >Conditioning</text>
<text x="225.00" y="125.60" font-size="9.2" text-anchor="middle" textLength="17" lengthAdjust="spacingAndGlyphs" fill="#000000" >ADC</text>
<text x="225.00" y="201.05" font-size="9.2" text-anchor="middle" textLength="17" lengthAdjust="spacingAndGlyphs" fill="#000000" >ADC</text>
<text x="288.90" y="244.60" font-size="9.2" text-anchor="middle" textLength="39.4" lengthAdjust="spacingAndGlyphs" fill="#000000" >Divide by 2</text>
<text x="288.90" y="286.80" font-size="9.2" text-anchor="middle" textLength="39.4" lengthAdjust="spacingAndGlyphs" fill="#000000" >Divide by 2</text>
<text x="361.60" y="244.90" font-size="9.2" text-anchor="middle" textLength="38.2" lengthAdjust="spacingAndGlyphs" fill="#000000" >Data Clock</text>
<text x="361.40" y="282.60" font-size="9.2" text-anchor="middle" textLength="52" lengthAdjust="spacingAndGlyphs" fill="#000000" >Time-to-Digital</text>
<text x="361.40" y="292.20" font-size="9.2" text-anchor="middle" textLength="37" lengthAdjust="spacingAndGlyphs" fill="#000000" >Converter</text>
<text x="157.80" y="247.80" font-size="9.2" text-anchor="middle" textLength="53" lengthAdjust="spacingAndGlyphs" fill="#000000" >Onboard Clock</text>
<text x="157.80" y="257.60" font-size="9.2" text-anchor="middle" textLength="14" lengthAdjust="spacingAndGlyphs" fill="#000000" >PLL</text>
<text x="46.20" y="334.40" font-size="9.2" text-anchor="end" textLength="16.6" lengthAdjust="spacingAndGlyphs" fill="#000000" >AUX</text>
<text x="46.20" y="343.20" font-size="9.2" text-anchor="end" textLength="11.4" lengthAdjust="spacingAndGlyphs" fill="#000000" >I/O</text>
<text x="101.70" y="324.50" font-size="9.2" text-anchor="middle" textLength="34.2" lengthAdjust="spacingAndGlyphs" fill="#000000" >CLK OUT</text>
<text x="101.50" y="333.10" font-size="9.2" text-anchor="middle" textLength="25.2" lengthAdjust="spacingAndGlyphs" fill="#000000" >CLK IN</text>
<text x="102.00" y="342.00" font-size="9.2" text-anchor="middle" textLength="22.5" lengthAdjust="spacingAndGlyphs" fill="#000000" >8x PFI</text>
<text x="126.20" y="355.60" font-size="9.2" text-anchor="start" textLength="21.6" lengthAdjust="spacingAndGlyphs" fill="#000000" >+3.3 V</text>
<text x="383.50" y="328.40" font-size="9.2" text-anchor="middle" textLength="28.3" lengthAdjust="spacingAndGlyphs" fill="#000000" >PFI DIR</text>
<rect x="0.5" y="0.5" width="649" height="444" fill="none" stroke="#87d3c9" stroke-width="1"/>
</svg>
</body></html>
